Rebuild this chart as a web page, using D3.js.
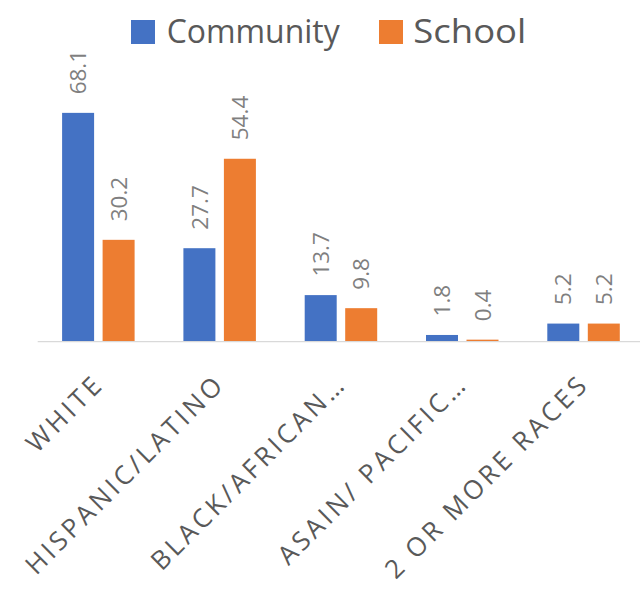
<!DOCTYPE html>
<html>
<head>
<meta charset="utf-8">
<script src="https://cdn.jsdelivr.net/npm/d3@7/dist/d3.min.js"></script>
<style>
  html, body { margin: 0; padding: 0; background: #fff; }
  svg { display: block; }
</style>
</head>
<body>
<svg id="chart" width="640" height="596"></svg>
<script>
const categories = ["WHITE", "HISPANIC/LATINO", "BLACK/AFRICAN…", "ASAIN/ PACIFIC…", "2 OR MORE RACES"];
const seriesNames = ["Community", "School"];
const communityValues = [68.1, 27.7, 13.7, 1.8, 5.2];
const schoolValues = [30.2, 54.4, 9.8, 0.4, 5.2];
const colors = ["#4472C4", "#ED7D31"];

const svg = d3.select("#chart");
const font = "'Open Sans', 'Noto Sans', sans-serif";
const baseY = 341;

const x = d3.scaleBand().domain(categories).range([37.7, 644.2]).paddingInner(0).paddingOuter(0);
const barW = 32, gap = 8.5;
const xs = d3.scaleOrdinal().domain(seriesNames).range([-(gap / 2 + barW), gap / 2]);
const y = d3.scaleLinear().domain([0, 80]).range([baseY, baseY - 80 * 3.35]);

const rows = categories.map((c, i) => ({ cat: c, vals: [communityValues[i], schoolValues[i]] }));

// axis line
svg.append("line")
  .attr("x1", x.range()[0]).attr("x2", x.range()[1])
  .attr("y1", baseY + 0.6).attr("y2", baseY + 0.6)
  .attr("stroke", "#d9d9d9").attr("stroke-width", 1.4);

const g = svg.append("g");
rows.forEach(r => {
  const cx = x(r.cat) + x.bandwidth() / 2;
  r.vals.forEach((v, si) => {
    const bx = cx + xs(seriesNames[si]);
    g.append("rect")
      .attr("x", bx).attr("width", barW)
      .attr("y", y(v)).attr("height", y(0) - y(v))
      .attr("fill", colors[si]);
    const lx = bx + barW / 2;
    const ly = y(v) - 18.5;
    g.append("text")
      .attr("transform", `translate(${lx},${ly}) rotate(-90)`)
      .attr("dy", "0.36em")
      .attr("text-anchor", "start")
      .attr("font-family", font)
      .attr("font-size", 22.5)
      .attr("fill", "#7f7f7f")
      .text(v.toFixed(1));
  });
  // category label
  g.append("text")
    .attr("transform", `translate(${cx + 7},${385.5}) rotate(-45)`)
    .attr("text-anchor", "end")
    .attr("font-family", font)
    .attr("font-size", 26)
    .attr("letter-spacing", "3.5px")
    .attr("fill", "#595959")
    .text(r.cat);
});

// legend
const legendItems = [
  { name: seriesNames[0], sx: 131, tx: 166.7, len: 173 },
  { name: seriesNames[1], sx: 379, tx: 413.3, len: 113 }
];
legendItems.forEach((d, i) => {
  svg.append("rect").attr("x", d.sx).attr("y", 20).attr("width", 24).attr("height", 24).attr("fill", colors[i]);
  svg.append("text")
    .attr("x", d.tx).attr("y", 43)
    .attr("font-family", font)
    .attr("font-size", 33)
    .attr("fill", "#595959")
    .attr("textLength", d.len)
    .attr("lengthAdjust", "spacingAndGlyphs")
    .text(d.name);
});
</script>
</body>
</html>
